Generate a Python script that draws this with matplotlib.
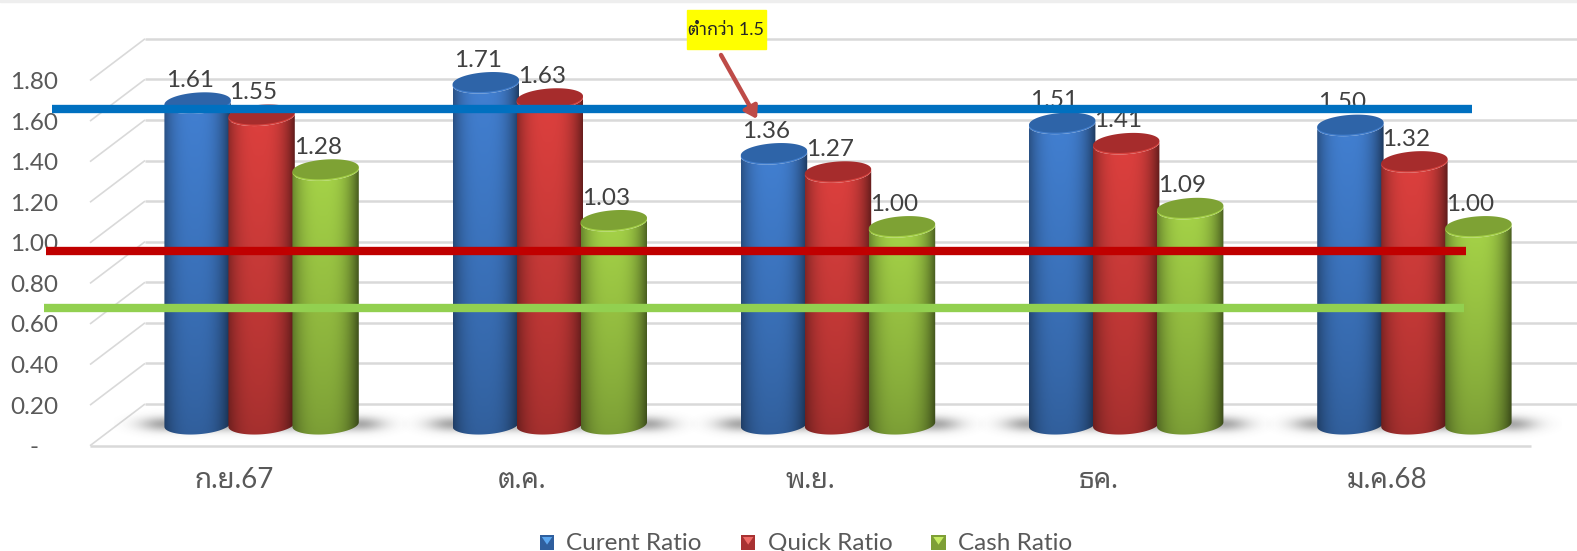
import numpy as np
import matplotlib
matplotlib.use("Agg")
import matplotlib.pyplot as plt
from matplotlib.legend_handler import HandlerBase
from matplotlib.patches import PathPatch, Patch, Polygon, Rectangle
from matplotlib.path import Path

# chart values
months = ["ก.ย.67", "ต.ค.", "พ.ย.", "ธค.", "ม.ค.68"]
current_ratio = [1.61, 1.71, 1.36, 1.51, 1.50]
quick_ratio = [1.55, 1.63, 1.27, 1.41, 1.32]
cash_ratio = [1.28, 1.03, 1.00, 1.09, 1.00]
series_names = ["Curent Ratio", "Quick Ratio", "Cash Ratio"]
y_ticks = [0, 0.2, 0.4, 0.6, 0.8, 1.0, 1.2, 1.4, 1.6, 1.8]
y_labels = ["-   ", "0.20", "0.40", "0.60", "0.80", "1.00", "1.20", "1.40", "1.60", "1.80"]
target_levels = [1.66, 0.96, 0.68]

W, H = 1577, 551
LEFT, RIGHT, FLOOR, TOP = 90, 1531, 445.7, 80.5
UX = (RIGHT - LEFT) / 5      # pixels per category
UY = (FLOOR - TOP) / 1.8     # pixels per ratio unit
DEPTH_X = 55 / UX
DEPTH_Y = 41.7 / UY
GREY = "#595959"

plt.rcParams["font.family"] = ["Lato", "Noto Sans Thai Looped", "DejaVu Sans"]

fig = plt.figure(figsize=(W / 100, H / 100), dpi=100)
ax = fig.add_axes([LEFT / W, 1 - FLOOR / H, (RIGHT - LEFT) / W, (FLOOR - TOP) / H])
ax.patch.set_visible(False)
for s in ax.spines.values():
    s.set_visible(False)


def px(x, y):
    # reference pixel -> figure pixels
    return x, H - y


# ---- floor and wall grid ----
grid_kw = dict(color="#D9D9D9", clip_on=False, zorder=1, solid_capstyle="butt")
for v in y_ticks:
    ax.plot([-0.5, -0.5 + DEPTH_X], [v, v + DEPTH_Y], lw=1.2, **grid_kw)
    ax.plot([-0.5 + DEPTH_X, 4.5 + 46 / UX], [v + DEPTH_Y, v + DEPTH_Y], lw=1.8, **grid_kw)
ax.plot([-0.5, 4.5], [0, 0], lw=1.8, **grid_kw)
fig.add_artist(Rectangle((0, 1 - 1.5 / H), 1, 1.5 / H, color="#EEEEEE"))

ax.set_xticks(range(5), months, fontsize=20, color=GREY)
ax.set_yticks(y_ticks, y_labels, fontsize=17.5, color=GREY)
ax.tick_params(axis="x", length=0, pad=15)
ax.tick_params(axis="y", length=0, pad=23)

# ---- cylinders ----
BAR_A = 33.2 / UX
BAR_B = 9.8 / UY
TILT = 2.2 / UY
STEP = 64 / UX
SHIFT = 27.5 / UX
BASE = 21.2 / UY
TOP_DROP = 6 / UY
colors = [
    dict(light=(66, 128, 210), cap=(46, 100, 168), rim=(66, 126, 204), swatch="#2F5F9E", tip="#5BA7F0"),
    dict(light=(222, 64, 62), cap=(166, 44, 44), rim=(214, 66, 62), swatch="#A83232", tip="#EF6A66"),
    dict(light=(166, 212, 72), cap=(126, 162, 52), rim=(164, 208, 72), swatch="#7E9F36", tip="#C6EC62"),
]


def ellipse_pts(cx, cy, t):
    return np.column_stack([cx + BAR_A * np.cos(t), cy + BAR_B * np.sin(t) + TILT * np.cos(t)])


def add_shadow(cx, zorder):
    half = 98 / UX
    reach = 50 / UX
    xs = np.linspace(cx - half - reach, cx + half + reach, 160)
    ys = np.linspace(BASE - 18 / UY, BASE + 18 / UY, 40)
    gx, gy = np.meshgrid(xs, ys)
    out = np.clip(np.abs(gx - cx) - half, 0, None) / (reach * 0.5)
    alpha = 0.45 * np.exp(-out ** 2) * np.exp(-((gy - BASE) / (7.5 / UY)) ** 2)
    img = np.zeros(gx.shape + (4,))
    img[..., :3] = 0.25
    img[..., 3] = alpha
    ax.imshow(img, extent=[xs[0], xs[-1], ys[0], ys[-1]], origin="lower", aspect="auto",
              zorder=zorder, clip_on=False, interpolation="bilinear")


def add_cylinder(cx, value, style, zorder):
    top = value + BASE - TOP_DROP
    t_low = np.linspace(np.pi, 2 * np.pi, 50)
    low = ellipse_pts(cx, BASE, t_low)
    high = ellipse_pts(cx, top, t_low[::-1])
    body = Path(np.vstack([low, high, low[:1]]))
    us = np.linspace(-1, 1, 100)
    vs = np.linspace(0, 1, 60)
    gu, gv = np.meshgrid(us, vs)
    shade = (1 - 0.45 * np.abs(gu + 0.08) ** 2.8) * (0.74 + 0.26 * gv ** 0.8)
    img = np.clip(shade[..., None] * np.array(style["light"]) / 255, 0, 1)
    im = ax.imshow(img, extent=[cx - BAR_A, cx + BAR_A, BASE - BAR_B - TILT, top + BAR_B],
                   origin="lower", aspect="auto", zorder=zorder)
    clip = PathPatch(body, transform=ax.transData, fc="none", ec="none")
    ax.add_patch(clip)
    im.set_clip_path(clip)
    im.set_clip_box(fig.bbox)  # some bars rise above the axes box
    # top cap: lighter rim, darker face shifted up
    t = np.linspace(0, 2 * np.pi, 90)
    ax.add_patch(Polygon(ellipse_pts(cx, top, t), closed=True, clip_on=False, zorder=zorder + 0.1,
                         fc=np.array(style["rim"]) / 255, ec="none"))
    ax.add_patch(Polygon(ellipse_pts(cx, top + 1.5 / UY, t), closed=True, clip_on=False, zorder=zorder + 0.2,
                         fc=np.array(style["cap"]) / 255, ec="none"))


for i in range(5):
    add_shadow(i + SHIFT, 2)
    vals = [current_ratio[i], quick_ratio[i], cash_ratio[i]]
    for j, v in enumerate(vals):
        cx = i + SHIFT + (j - 1) * STEP
        add_cylinder(cx, v, colors[j], 3 + i + j * 0.3)
        ax.text(cx - 8 / UX, v + BASE + 17.5 / UY, f"{v:.2f}", ha="center", va="center",
                fontsize=17.5, color="#404040", zorder=12)
ax.set_xlim(-0.5, 4.5)
ax.set_ylim(0, 1.8)

# ---- hand drawn target lines ----
for level, c, x0, x1 in zip(target_levels, ["#0070C0", "#C00000", "#92D050"], [52, 46, 44], [1472, 1466, 1464]):
    ax.plot([(x0 - LEFT) / UX - 0.5, (x1 - LEFT) / UX - 0.5], [level, level], color=c, lw=6,
            solid_capstyle="butt", clip_on=False, zorder=20)

# ---- callout ----
fig.add_artist(Rectangle((687 / W, 1 - 48.5 / H), 79 / W, 38.5 / H, color="#FFFF00", zorder=25))
fig.text(726.5 / W, 1 - 30 / H, "ต่ำกว่า 1.5", ha="center", va="center", fontsize=13,
         color="#262626", zorder=26)
ax.annotate("", xy=px(757, 119), xytext=px(721, 55), xycoords="figure pixels", textcoords="figure pixels",
            arrowprops=dict(arrowstyle="-|>,head_length=0.7,head_width=0.45", color="#BE4B48", lw=3.2,
                            shrinkA=0, shrinkB=0), zorder=26, annotation_clip=False)


# ---- legend ----
class SwatchHandler(HandlerBase):
    def create_artists(self, legend, orig, xd, yd, width, height, fontsize, trans):
        box = Rectangle((-xd, -yd), 10.5, 10.5, fc=orig.get_facecolor(), ec="none", transform=trans)
        tri = Polygon([(-xd + 1.5, -yd + 9), (-xd + 9, -yd + 9), (-xd + 5.25, -yd + 3.5)], closed=True,
                      fc=orig.tip, ec="none", transform=trans)
        return [box, tri]


handles = []
for name, st in zip(series_names, colors):
    h = Patch(fc=st["swatch"], label=name)
    h.tip = st["tip"]
    handles.append(h)
fig.legend(handles=handles, loc="center", bbox_to_anchor=(806 / W, 1 - 543 / H), ncols=3, frameon=False,
           fontsize=17.5, labelcolor=GREY, handlelength=0.6, handletextpad=0.5, columnspacing=1.6,
           borderpad=0, handler_map={Patch: SwatchHandler()})

fig.savefig("out.png", dpi=100)
plt.close(fig)
